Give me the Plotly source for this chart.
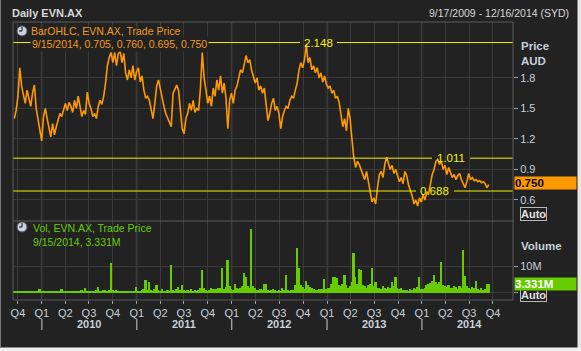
import pandas as pd
import plotly.graph_objects as go

# ---------------- data (weekly samples) ----------------
price = [
    1.40, 1.48, 1.62, 1.90, 1.72, 1.62, 1.55, 1.68, 1.58, 1.52,
    1.65, 1.73, 1.50, 1.40, 1.30, 1.18, 1.42, 1.50, 1.40, 1.30,
    1.22, 1.35, 1.24, 1.32, 1.40, 1.45, 1.42, 1.50, 1.55, 1.48,
    1.56, 1.52, 1.46, 1.58, 1.50, 1.62, 1.50, 1.42, 1.48, 1.44,
    1.66, 1.55, 1.50, 1.42, 1.45, 1.40, 1.52, 1.58, 1.54, 1.62,
    1.75, 1.92, 2.00, 2.05, 1.95, 2.05, 1.92, 2.04, 2.06, 1.95,
    2.04, 1.85, 1.78, 1.88, 1.80, 1.92, 1.78, 1.86, 1.90, 1.76,
    1.82, 1.68, 1.60, 1.62, 1.58, 1.50, 1.40, 1.55, 1.72, 1.78,
    1.68, 1.62, 1.52, 1.45, 1.40, 1.35, 1.32, 1.65, 1.70, 1.73,
    1.68, 1.45, 1.30, 1.25, 1.40, 1.45, 1.55, 1.48, 1.58, 1.46,
    1.50, 1.48, 1.70, 2.05, 1.80, 1.68, 1.55, 1.62, 1.52, 1.70,
    1.62, 1.78, 1.68, 1.82, 1.65, 1.75, 1.60, 1.30, 1.58, 1.65,
    1.55, 1.68, 1.72, 1.80, 1.88, 1.85, 1.95, 2.02, 1.95, 1.98,
    1.88, 1.80, 1.75, 1.80, 1.68, 1.72, 1.65, 1.70, 1.50, 1.38,
    1.45, 1.55, 1.60, 1.48, 1.52, 1.45, 1.30, 1.42, 1.48, 1.52,
    1.50, 1.58, 1.62, 1.60, 1.68, 1.75, 1.88, 1.95, 1.90, 1.98,
    2.13, 1.95, 2.00, 1.88, 1.92, 1.85, 1.90, 1.80, 1.85, 1.76,
    1.82, 1.74, 1.70, 1.72, 1.65, 1.68, 1.60, 1.62, 1.56, 1.45,
    1.32, 1.40, 1.28, 1.50, 1.40, 1.20, 1.02, 0.92, 0.98, 0.95,
    0.90, 0.85, 0.80, 0.88, 0.78, 0.70, 0.58, 0.62, 0.56, 0.72,
    0.85, 0.88, 0.82, 0.95, 1.02, 0.96, 0.90, 0.94, 0.86, 0.90,
    0.84, 0.78, 0.82, 0.76, 0.88, 0.84, 0.75, 0.70, 0.64, 0.56,
    0.60, 0.54, 0.62, 0.58, 0.65, 0.60, 0.68, 0.66, 0.75, 0.85,
    0.90, 0.98, 1.00, 0.95, 0.98, 0.90, 0.94, 0.85, 0.92, 0.86,
    0.82, 0.85, 0.80, 0.84, 0.86, 0.80, 0.76, 0.72, 0.78, 0.86,
    0.80, 0.82, 0.79, 0.80, 0.78, 0.79, 0.77, 0.78, 0.76, 0.72,
    0.75,
]

volume_m = [
    0.5, 0.4, 0.6, 0.8, 0.5, 0.4, 0.5, 0.6, 0.4, 0.5,
    0.7, 0.5, 0.4, 0.6, 1.4, 0.6, 0.5, 0.4, 0.6, 0.5,
    0.7, 0.5, 0.4, 0.6, 0.5, 0.8, 1.4, 0.6, 0.5, 0.7,
    0.4, 0.6, 0.5, 0.7, 0.9, 0.6, 0.8, 1.0, 0.7, 1.8,
    0.9, 0.6, 0.8, 0.5, 0.7, 1.0, 2.3, 0.8, 0.6, 1.2,
    1.0, 0.8, 1.2, 11.0, 1.1, 0.8, 1.0, 0.7, 0.6, 0.5,
    0.7, 0.6, 0.5, 0.4, 0.5, 0.6, 0.9, 2.3, 0.6, 0.8,
    1.2, 1.5, 4.8, 1.0, 4.0, 1.2, 0.9, 1.5, 3.0, 1.0,
    0.8, 1.4, 0.9, 0.7, 1.2, 0.8, 10.4, 1.0, 0.8, 1.6,
    2.3, 1.0, 2.8, 1.2, 0.9, 1.0, 0.8, 1.5, 0.7, 1.2,
    0.9, 1.0, 1.8, 8.5, 2.0, 1.2, 0.9, 1.0, 1.8, 1.4,
    1.6, 1.3, 1.8, 2.0, 9.3, 1.5, 2.2, 12.2, 2.5, 1.5,
    1.2, 3.5, 1.8, 1.4, 2.0, 2.6, 7.4, 6.0, 2.5, 1.8,
    23.6, 2.5, 1.8, 1.2, 1.0, 1.4, 1.1, 3.3, 3.3, 1.2,
    0.9, 1.0, 1.4, 1.0, 0.8, 1.2, 0.9, 1.8, 1.0, 6.7,
    1.0, 0.8, 1.0, 1.2, 3.0, 16.6, 9.3, 3.0, 2.2, 1.5,
    4.4, 3.0, 2.4, 2.0, 1.5, 1.2, 1.0, 1.3, 1.5, 1.4,
    5.2, 1.6, 1.8, 2.0, 3.5, 5.8, 6.0, 5.4, 3.0, 2.5,
    3.5, 6.7, 3.0, 2.0, 2.5, 4.0, 14.8, 5.8, 3.5, 8.9,
    8.5, 3.0, 2.5, 2.0, 2.8, 3.5, 9.1, 2.5, 4.2, 2.0,
    1.8, 1.5, 2.5, 2.0, 1.6, 2.2, 2.0, 4.2, 2.5, 5.9,
    2.0, 1.5, 1.8, 1.2, 1.0, 1.2, 0.9, 1.4, 1.0, 1.8,
    1.5, 2.2, 5.9, 1.6, 1.5, 2.0, 2.8, 3.2, 3.8, 4.5,
    6.5, 4.0, 3.5, 4.2, 11.4, 3.0, 2.5, 2.2, 3.0, 2.0,
    1.8, 2.6, 2.2, 1.6, 2.5, 2.0, 16.0, 6.2, 2.5, 2.0,
    1.5, 2.2, 1.8, 4.3, 1.5, 1.2, 1.8, 1.0, 1.5, 3.3,
    3.3,
]

first_date = "2009-09-17"
last_date = "2014-09-15"
dates = pd.date_range(first_date, last_date, periods=len(price))
vol_dates = pd.date_range(first_date, last_date, periods=len(volume_m))
volume = [v * 1e6 for v in volume_m]

quarter_ticks = ["2009-10-01", "2010-01-01", "2010-04-01", "2010-07-01", "2010-10-01",
                 "2011-01-01", "2011-04-01", "2011-07-01", "2011-10-01",
                 "2012-01-01", "2012-04-01", "2012-07-01", "2012-10-01",
                 "2013-01-01", "2013-04-01", "2013-07-01", "2013-10-01",
                 "2014-01-01", "2014-04-01", "2014-07-01", "2014-10-01"]
quarter_labels = ["Q4", "Q1", "Q2", "Q3", "Q4", "Q1", "Q2", "Q3", "Q4", "Q1", "Q2", "Q3", "Q4",
                  "Q1", "Q2", "Q3", "Q4", "Q1", "Q2", "Q3", "Q4"]
years = ["2010", "2011", "2012", "2013", "2014"]
price_ticks = [0.6, 0.9, 1.2, 1.5, 1.8]
level_high = 2.148
level_mid = 1.011
level_low = 0.688
last_price_text = "0.750"
last_volume_text = "3.331M"

# ---------------- styling ----------------
BG = "#222222"
GRID = "#3a3a3a"
TXT = "#c8d0da"
ORANGE = "#ff9900"
GREEN = "#66cc00"
YELLOW = "#f2f200"
FONT = "Liberation Sans"

W, H = 581, 351
L, R, T, B = 13, 68, 22, 51
PW, PH = W - L - R, H - T - B


def px(xp):
    return (xp - L) / PW


def py(yp):
    return (H - B - yp) / PH


fig = go.Figure()
fig.add_trace(go.Scatter(x=dates, y=price, mode="lines",
                         line=dict(color=ORANGE, width=1.6),
                         xaxis="x2", yaxis="y", hoverinfo="skip"))
fig.add_trace(go.Bar(x=vol_dates, y=volume, marker=dict(color=GREEN, line=dict(width=0)),
                     xaxis="x", yaxis="y2", hoverinfo="skip"))

vol_split = 79 / PH
xrange_ = ["2009-09-12", "2014-12-17"]

fig.update_layout(
    width=W, height=H,
    margin=dict(l=L, r=R, t=T, b=B),
    paper_bgcolor=BG, plot_bgcolor=BG,
    showlegend=False, hovermode=False, bargap=0,
    font=dict(family=FONT, size=11, color=TXT),
    xaxis=dict(domain=[0, 1], anchor="y2", type="date", range=xrange_,
               tickvals=quarter_ticks, ticktext=quarter_labels,
               showgrid=True, gridcolor=GRID, gridwidth=1,
               ticks="outside", ticklen=3, tickcolor="#9aa0a8",
               tickfont=dict(family=FONT, size=11, color=TXT),
               zeroline=False, showline=False),
    xaxis2=dict(domain=[0, 1], anchor="y", type="date", matches="x", range=xrange_,
                tickvals=quarter_ticks, showticklabels=False, ticks="",
                showgrid=True, gridcolor=GRID, gridwidth=1, zeroline=False, showline=False),
    yaxis=dict(domain=[vol_split, 1], anchor="x2", side="right", range=[0.393, 2.35],
               tickvals=price_ticks, ticktext=["%.1f" % v for v in price_ticks],
               showgrid=True, gridcolor=GRID, ticks="outside", ticklen=4, tickcolor="#9aa0a8",
               tickfont=dict(family=FONT, size=11, color=TXT), zeroline=False, showline=False),
    yaxis2=dict(domain=[0, vol_split], anchor="x", side="right", range=[-2.6e6, 26.7e6],
                tickvals=[0, 1e7], ticktext=["", "10M"],
                showgrid=True, gridcolor=GRID, ticks="outside", ticklen=4, tickcolor="#9aa0a8",
                tickfont=dict(family=FONT, size=11, color=TXT), zeroline=False, showline=False),
)

shapes = []
# thicker year grid lines
for y in years:
    for yr0, yr1 in [(vol_split, 1), (0, vol_split)]:
        shapes.append(dict(type="line", xref="x", yref="paper", x0=f"{y}-01-01", x1=f"{y}-01-01",
                           y0=yr0, y1=yr1, line=dict(color="#2c2c2c", width=3), layer="between"))
    # year separator below axis
    shapes.append(dict(type="line", xref="x", yref="paper", x0=f"{y}-01-01", x1=f"{y}-01-01",
                       y0=py(319), y1=py(330), line=dict(color=TXT, width=1)))
# level lines, broken around their labels
level_specs = [(level_high, 300, 337, 318), (level_mid, 432, 470, 451), (level_low, 416, 454, 434)]
for lv, gap0, gap1, _ in level_specs:
    for a, b in [(0, px(gap0)), (px(gap1), 1)]:
        shapes.append(dict(type="line", xref="paper", yref="y", x0=a, x1=b, y0=lv, y1=lv,
                           line=dict(color=YELLOW, width=1)))
# panel borders
shapes.append(dict(type="rect", xref="paper", yref="paper", x0=0, x1=1, y0=0, y1=1,
                   line=dict(color="#5a5a5a", width=1)))
shapes.append(dict(type="line", xref="paper", yref="paper", x0=0, x1=1, y0=vol_split, y1=vol_split,
                   line=dict(color="#5a5a5a", width=1)))
# clock icons
for cy in [31, 227]:
    shapes.append(dict(type="circle", xref="paper", yref="paper",
                       x0=px(17), x1=px(27), y0=py(cy + 5), y1=py(cy - 5),
                       fillcolor="#c9d3e3", line=dict(color="#555", width=1)))
    shapes.append(dict(type="line", xref="paper", yref="paper", x0=px(22), x1=px(22),
                       y0=py(cy), y1=py(cy - 4), line=dict(color="#111", width=1)))
    shapes.append(dict(type="line", xref="paper", yref="paper", x0=px(22), x1=px(19),
                       y0=py(cy), y1=py(cy), line=dict(color="#111", width=1)))
# outer frame
shapes.append(dict(type="rect", xref="paper", yref="paper", x0=px(577.5), x1=px(582),
                   y0=py(-1), y1=py(352), fillcolor="#e6e6e6", line=dict(width=0)))
shapes.append(dict(type="rect", xref="paper", yref="paper", x0=px(-1), x1=px(582),
                   y0=py(347.5), y1=py(352), fillcolor="#f0f0f0", line=dict(width=0)))
shapes.append(dict(type="rect", xref="paper", yref="paper", x0=px(-1), x1=px(1),
                   y0=py(-1), y1=py(348), fillcolor="#7a7a7a", line=dict(width=0)))
fig.update_layout(shapes=shapes)

ann = []


def text(x, y, s, color=TXT, size=11, anchor="left", bold=False, bg=None, **kw):
    d = dict(xref="paper", yref="paper", x=px(x), y=py(y), text=f"<b>{s}</b>" if bold else s,
             showarrow=False, xanchor=anchor, yanchor="middle",
             font=dict(family=FONT, size=size, color=color))
    if bg:
        d["bgcolor"] = bg
    d.update(kw)
    ann.append(d)


text(10, 13, "Daily EVN.AX", color="#d8d8d8", size=11, bold=True)
text(571, 13, "9/17/2009 - 12/16/2014 (SYD)", color="#d8d8d8", size=10.5, anchor="right")
text(29, 31, "BarOHLC, EVN.AX, Trade Price", color="#f29a1f", size=10.5)
text(30, 44, "9/15/2014, 0.705, 0.760, 0.695, 0.750", color="#f29a1f", size=10.5, bg=BG, borderpad=1)
text(31, 228, "Vol, EVN.AX, Trade Price", color=GREEN, size=10.5)
text(31, 242, "9/15/2014, 3.331M", color=GREEN, size=10.5)
text(519, 46, "Price", size=11.5, bold=True)
text(519, 61, "AUD", size=11.5, bold=True)
text(519, 246, "Volume", size=11.5, bold=True)
text(520, 214, "Auto", color="#e0e0e0", size=11, bold=True, bg=BG,
     bordercolor="#b8b8b8", borderwidth=1, borderpad=0)
text(520, 294.5, "Auto", color="#e0e0e0", size=11, bold=True, bg=BG,
     bordercolor="#b8b8b8", borderwidth=1, borderpad=0)
text(514, 182.5, last_price_text, color="#000000", size=11.5, bold=True, bg=ORANGE,
     width=61, align="left", borderpad=0)
text(514, 284, last_volume_text, color="#ffffff", size=11.5, bold=True, bg=GREEN,
     width=61, align="left", borderpad=0)

# level labels
for lv, _, _, xc in level_specs:
    ann.append(dict(xref="paper", yref="y", x=px(xc), y=lv, text=f"{lv:.3f}", showarrow=False,
                    xanchor="center", yanchor="middle",
                    font=dict(family=FONT, size=11.5, color=YELLOW)))

# year labels
for y in years:
    ann.append(dict(xref="x", yref="paper", x=f"{y}-07-01", y=py(324.5), text=f"<b>{y}</b>",
                    showarrow=False, xanchor="center", yanchor="middle",
                    font=dict(family=FONT, size=11, color=TXT)))

fig.update_layout(annotations=ann)
fig.write_html("out.html")
